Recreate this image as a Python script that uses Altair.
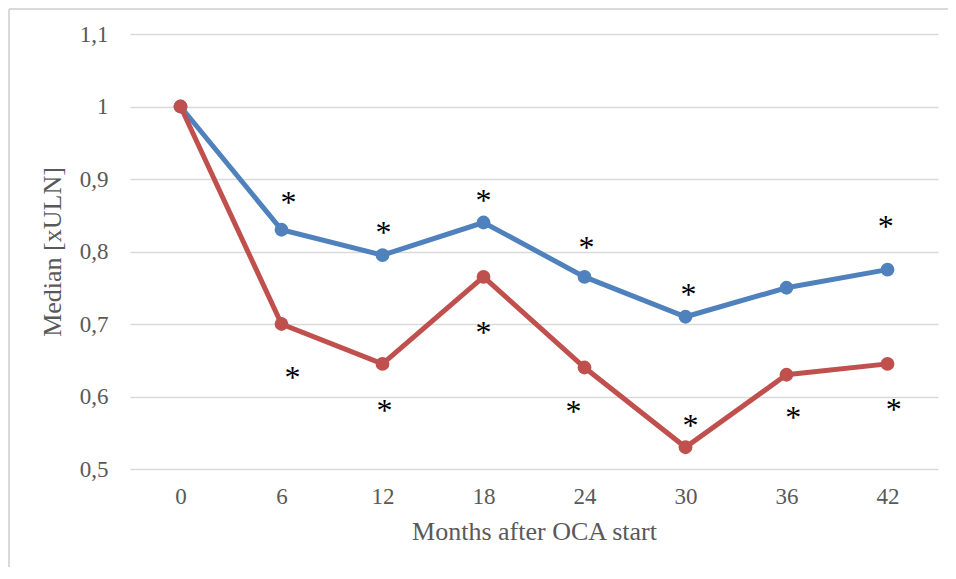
import altair as alt
import pandas as pd

months = [0, 6, 12, 18, 24, 30, 36, 42]
blue_vals = [1.0, 0.83, 0.795, 0.84, 0.765, 0.71, 0.75, 0.775]
red_vals = [1.0, 0.70, 0.645, 0.765, 0.64, 0.53, 0.63, 0.645]
y_ticks = [0.5, 0.6, 0.7, 0.8, 0.9, 1.0, 1.1]

# significance markers (asterisks)
blue_ast_x = [6.42, 12.06, 18.0, 24.12, 30.18, 41.89]
blue_ast_y = [0.874, 0.832, 0.877, 0.812, 0.747, 0.841]
red_ast_x = [6.65, 12.12, 18.0, 23.35, 30.3, 36.4, 42.37]
red_ast_y = [0.632, 0.587, 0.694, 0.586, 0.566, 0.577, 0.588]

series_names = ["Series 1", "Series 2"]
series_colors = ["#4f81bd", "#c0504d"]

rows = []
for m, v in zip(months, blue_vals):
    rows.append({"month": m, "value": v, "series": series_names[0]})
for m, v in zip(months, red_vals):
    rows.append({"month": m, "value": v, "series": series_names[1]})
df = pd.DataFrame(rows)

ast = pd.DataFrame({
    "x": blue_ast_x + red_ast_x,
    "y": blue_ast_y + red_ast_y,
    "label": ["*"] * (len(blue_ast_x) + len(red_ast_x)),
})

FONT = "Liberation Serif"
GRAY = "#595959"

x_scale = alt.Scale(domain=[-3, 45], nice=False, zero=False)
y_scale = alt.Scale(domain=[0.5, 1.1], nice=False, zero=False)

x_enc = alt.X(
    "month:Q",
    scale=x_scale,
    axis=alt.Axis(
        values=months,
        grid=False,
        ticks=False,
        domain=False,
        labelFont=FONT,
        labelFontSize=23,
        labelColor=GRAY,
        labelPadding=16,
        title="Months after OCA start",
        titleFont=FONT,
        titleFontSize=26,
        titleFontWeight="normal",
        titleColor=GRAY,
        titlePadding=10,
    ),
)
y_enc = alt.Y(
    "value:Q",
    scale=y_scale,
    axis=alt.Axis(
        values=y_ticks,
        grid=True,
        gridColor="#d9d9d9",
        gridWidth=1.5,
        ticks=False,
        domain=False,
        labelFont=FONT,
        labelFontSize=23,
        labelColor=GRAY,
        labelPadding=22,
        labelExpr="replace(format(datum.value, '.1~f'), '.', ',')",
        title="Median [xULN]",
        titleFont=FONT,
        titleFontSize=26,
        titleFontWeight="normal",
        titleColor=GRAY,
        titlePadding=14,
    ),
)
color_enc = alt.Color(
    "series:N",
    scale=alt.Scale(domain=series_names, range=series_colors),
    legend=None,
)

one = pd.DataFrame({"a": [0]})
frame_top = alt.Chart(one).mark_rule(stroke="#d9d9d9", strokeWidth=2).encode(
    x=alt.value(-121), x2=alt.value(818), y=alt.value(-25)
)
frame_left = alt.Chart(one).mark_rule(stroke="#d9d9d9", strokeWidth=2).encode(
    x=alt.value(-121), y=alt.value(-25), y2=alt.value(533)
)

blue_df = df[df.series == series_names[0]]
red_df = df[df.series == series_names[1]]

lines_blue = alt.Chart(blue_df).mark_line(strokeWidth=5).encode(
    x=x_enc, y=y_enc, color=color_enc
)
points_blue = alt.Chart(blue_df).mark_circle(size=190, opacity=1).encode(
    x="month:Q", y="value:Q", color=color_enc
)
lines_red = alt.Chart(red_df).mark_line(strokeWidth=5).encode(
    x="month:Q", y="value:Q", color=color_enc
)
points_red = alt.Chart(red_df).mark_circle(size=190, opacity=1).encode(
    x="month:Q", y="value:Q", color=color_enc
)

stars = alt.Chart(ast).mark_text(
    font=FONT, fontSize=32, color="black", baseline="alphabetic", dy=15
).encode(x="x:Q", y="y:Q", text="label:N")

chart = alt.layer(
    frame_top, frame_left, lines_blue, points_blue, lines_red, points_red, stars
).properties(
    width=808,
    height=435,
    padding={"left": 122, "top": 26, "right": 10, "bottom": 98},
    autosize=alt.AutoSizeParams(type="none"),
).configure_view(stroke=None)

chart.save("out.html", embed_options={"renderer": "svg", "actions": False})
